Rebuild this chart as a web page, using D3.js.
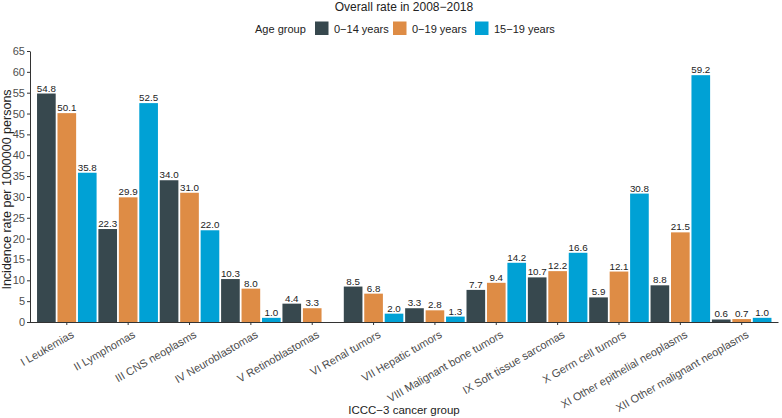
<!DOCTYPE html>
<html><head><meta charset="utf-8">
<script src="https://cdn.jsdelivr.net/npm/d3@7"></script>
<style>body{margin:0;background:#fff}svg{font-family:"Liberation Sans",Arial,sans-serif}</style>
</head><body>
<svg id="c" width="782" height="418"></svg>
<script>
const categories = ["I Leukemias","II Lymphomas","III CNS neoplasms","IV Neuroblastomas","V Retinoblastomas","VI Renal tumors","VII Hepatic tumors","VIII Malignant bone tumors","IX Soft tissue sarcomas","X Germ cell tumors","XI Other epithelial neoplasms","XII Other malignant neoplasms"];
const groups = ["0\u221214 years","0\u221219 years","15\u221219 years"];
const age0_14 = [54.8,22.3,34.0,10.3,4.4,8.5,3.3,7.7,10.7,5.9,8.8,0.6];
const age0_19 = [50.1,29.9,31.0,8.0,3.3,6.8,2.8,9.4,12.2,12.1,21.5,0.7];
const age15_19 = [35.8,52.5,22.0,1.0,null,2.0,1.3,14.2,16.6,30.8,59.2,1.0];
const yTicks = [0,5,10,15,20,25,30,35,40,45,50,55,60,65];
const colors = ["#37484e","#de8c45","#00a1d5"];
const series = [age0_14, age0_19, age15_19];

const svg = d3.select("#c");
const L = 30, R = 778.5, T = 51, B = 322;
const n = categories.length;
const u = (R - L) / (n + 0.2);
const x = d3.scaleBand().domain(categories).range([L + 0.1*u, R - 0.1*u]).paddingInner(0).paddingOuter(0);
const xs = d3.scaleBand().domain(groups).range([0, x.bandwidth()]);
const y = d3.scaleLinear().domain([0,65]).range([B, T]);

// bars
categories.forEach((c, i) => {
  series.forEach((s, j) => {
    const v = s[i];
    if (v == null) return;
    const bx = x(c) + xs(groups[j]);
    svg.append("rect").attr("x", bx + 0.9).attr("y", y(v)).attr("width", xs.bandwidth() - 1.8)
      .attr("height", y(0) - y(v)).attr("fill", colors[j]);
    svg.append("text").attr("x", bx + xs.bandwidth()/2).attr("y", y(v) - 2)
      .attr("text-anchor","middle").attr("font-size", 9.8).attr("fill","#222").text(v.toFixed(1));
  });
});

// y axis
const ya = svg.append("g").attr("transform", `translate(${L},0)`)
  .call(d3.axisLeft(y).tickValues(yTicks).tickSize(3).tickPadding(2).tickSizeOuter(0));
ya.select(".domain").attr("stroke","#333");
ya.selectAll(".tick line").attr("stroke","#333");
ya.selectAll("text").attr("font-size",11).attr("fill","#4d4d4d").attr("font-family","Liberation Sans, Arial, sans-serif");

// x axis
const xa = svg.append("g").attr("transform", `translate(0,${B})`)
  .call(d3.axisBottom(x).tickSize(3).tickSizeOuter(0).tickFormat(""));
xa.select(".domain").attr("stroke","#333").attr("d", `M${L},0.5H${R}`);
xa.selectAll(".tick line").attr("stroke","#333");
categories.forEach(c => {
  const cx = x(c) + x.bandwidth()/2;
  svg.append("text").attr("transform", `translate(${cx+4},${B+8}) rotate(-30)`)
    .attr("text-anchor","end").attr("dy","0.7em").attr("font-size",11).attr("fill","#4d4d4d").text(c);
});

// titles
svg.append("text").attr("x", 404).attr("y", 11).attr("text-anchor","middle").attr("font-size",12).attr("fill","#222").text("Overall rate in 2008\u22122018");
svg.append("text").attr("x", 404).attr("y", 414).attr("text-anchor","middle").attr("font-size",11.5).attr("fill","#222").text("ICCC\u22123 cancer group");
svg.append("text").attr("transform", `translate(11,${(T+B)/2 + 3}) rotate(-90)`).attr("text-anchor","middle").attr("font-size",12.5).attr("fill","#222").text("Incidence rate per 1000000 persons");

// legend
const lg = svg.append("g");
lg.append("text").attr("x",255).attr("y",32.5).attr("font-size",11).attr("fill","#222").text("Age group");
const lx = [315, 393, 475];
groups.forEach((g, j) => {
  lg.append("rect").attr("x", lx[j]).attr("y", 21.5).attr("width", 13.5).attr("height", 13.5).attr("fill", colors[j]);
  lg.append("text").attr("x", lx[j] + 19).attr("y", 32.5).attr("font-size",11).attr("fill","#222").text(g);
});
</script>
</body></html>
